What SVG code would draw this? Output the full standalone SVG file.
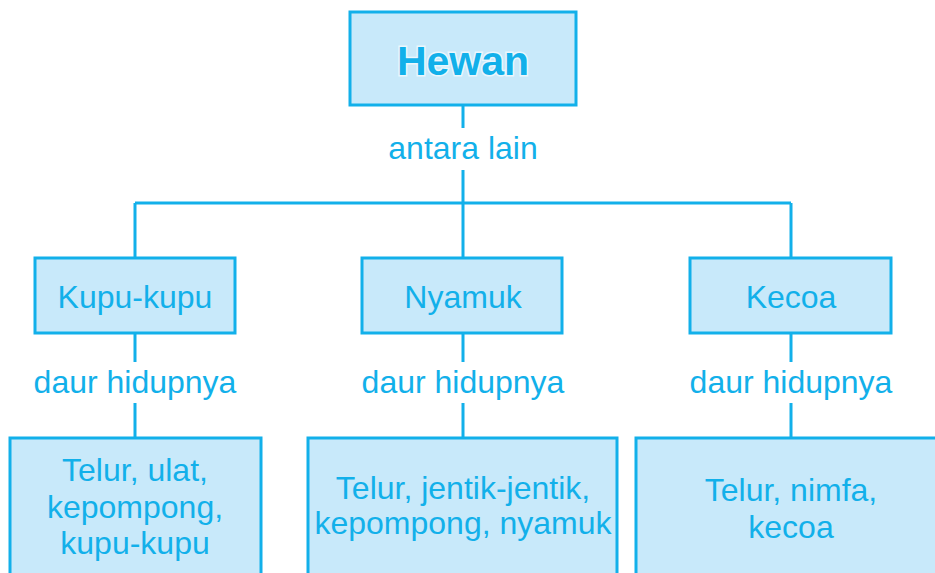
<svg xmlns="http://www.w3.org/2000/svg" width="935" height="573" viewBox="0 0 935 573">
<style>
.box{fill:#c8e9fa;stroke:#12b0ea;stroke-width:3}
.ln{stroke:#12b0ea;stroke-width:3;fill:none}
.t{font-family:"Liberation Sans",Arial,sans-serif;font-size:32px;fill:#12b0ea;text-anchor:middle}
.h{font-weight:bold;font-size:41px;stroke:#eaf7fd;stroke-width:3;paint-order:stroke}
</style>
<rect width="935" height="573" fill="#fff"/>
<g id="connectors">
<path class="ln" d="M463 105V128M463 170V203M135 203H791M135 203V258M463 203V258M791 203V258"/>
<path class="ln" d="M135 333V362M135 403V438M463 333V362M463 403V438M791 333V362M791 403V438"/>
</g>
<text class="t" x="463" y="159">antara lain</text>
<text class="t" x="135" y="393">daur hidupnya</text>
<text class="t" x="463" y="393">daur hidupnya</text>
<text class="t" x="791" y="393">daur hidupnya</text>
<g id="hewan"><rect class="box" x="350" y="12" width="226" height="93"/><text class="t h" x="463" y="75">Hewan</text></g>
<g id="kupu"><rect class="box" x="35" y="258" width="200" height="75"/><text class="t" x="135" y="308">Kupu-kupu</text></g>
<g id="nyamuk"><rect class="box" x="362" y="258" width="200" height="75"/><text class="t" x="463" y="308">Nyamuk</text></g>
<g id="kecoa"><rect class="box" x="690" y="258" width="201" height="75"/><text class="t" x="791" y="308">Kecoa</text></g>
<g id="daur-kupu"><rect class="box" x="10" y="438" width="251" height="150"/><text class="t" x="135" y="481">Telur, ulat,</text><text class="t" x="135" y="518">kepompong,</text><text class="t" x="135" y="554">kupu-kupu</text></g>
<g id="daur-nyamuk"><rect class="box" x="308" y="438" width="309" height="150"/><text class="t" x="463" y="499">Telur, jentik-jentik,</text><text class="t" x="463" y="534">kepompong, nyamuk</text></g>
<g id="daur-kecoa"><rect class="box" x="636" y="438" width="310" height="150"/><text class="t" x="791" y="501">Telur, nimfa,</text><text class="t" x="791" y="538">kecoa</text></g>
</svg>
